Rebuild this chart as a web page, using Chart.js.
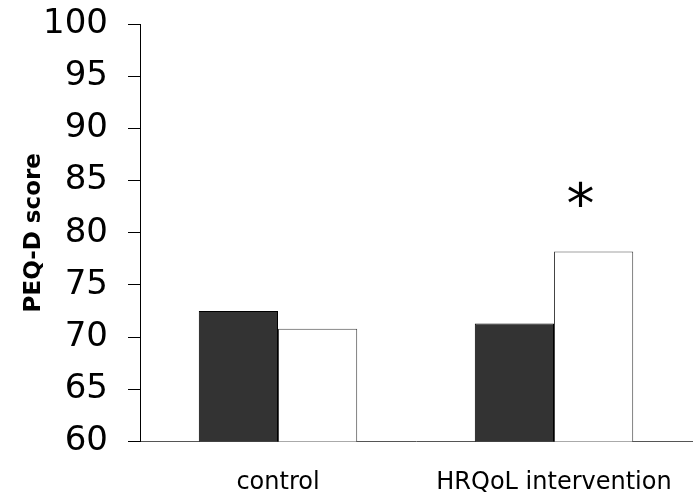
<!DOCTYPE html>
<html>
<head>
<meta charset="utf-8">
<script src="https://cdn.jsdelivr.net/npm/chart.js@4"></script>
<style>
  html, body { margin: 0; padding: 0; background: #fff; }
  #wrap { width: 696px; height: 497px; }
</style>
</head>
<body>
<div id="wrap"><canvas id="peqChart" width="696" height="497"></canvas></div>
<script>
// ===== DATA =====
const groups = ['control', 'HRQoL intervention'];
const baselineScores = [72.5, 71.3];   // dark bars
const followupScores = [70.8, 78.2];   // white bars
const yTicks = [60, 65, 70, 75, 80, 85, 90, 95, 100];
const starValue = 83.6;                // height of the "*" marker
const starGroup = 1;

const FONT = 'DejaVu Sans, Verdana, sans-serif';

// ===== SIGNIFICANCE STAR =====
const starPlugin = {
  id: 'star',
  afterDatasetsDraw(chart) {
    const bar = chart.getDatasetMeta(1).data[starGroup];
    const y = chart.scales.y.getPixelForValue(starValue);
    const ctx = chart.ctx;
    ctx.save();
    ctx.fillStyle = '#000';
    ctx.font = '56px ' + FONT;
    ctx.textAlign = 'center';
    ctx.textBaseline = 'alphabetic';
    ctx.fillText('*', bar.x - 13, y + 28);
    ctx.restore();
  }
};

// ===== BAR CHART =====
const ctx = document.getElementById('peqChart').getContext('2d');
new Chart(ctx, {
  type: 'bar',
  data: {
    labels: groups,
    datasets: [{
      data: baselineScores,
      backgroundColor: '#333333',
      borderColor: '#000',
      borderWidth: 1
    }, {
      data: followupScores,
      backgroundColor: '#ffffff',
      borderColor: '#444',
      borderWidth: 1
    }]
  },
  options: {
    responsive: false,
    animation: false,
    layout: { padding: { top: 24, right: 4, bottom: 0, left: 0 } },
    plugins: { legend: { display: false }, tooltip: { enabled: false } },
    datasets: { bar: { categoryPercentage: 0.574, barPercentage: 1 } },
    scales: {
      x: {
        grid: { display: false, drawTicks: false },
        border: { display: true, color: '#555', width: 1 },
        ticks: { color: '#000', font: { family: FONT, size: 24 }, padding: 27 },
        afterFit: (s) => { s.height = 55.5; s.paddingLeft = 0; s.paddingRight = 0; }
      },
      y: {
        min: 60,
        max: 100,
        afterBuildTicks: (s) => { s.ticks = yTicks.map(v => ({ value: v })); },
        grid: { drawOnChartArea: false, drawTicks: true, tickLength: 12, color: '#000' },
        border: { display: true, color: '#000', width: 1 },
        ticks: { color: '#000', font: { family: FONT, size: 34 }, padding: 20 },
        title: {
          display: true,
          text: 'PEQ-D score',
          color: '#000',
          font: { family: FONT, size: 23, weight: 'bold' },
          padding: { top: 20, bottom: 0 }
        },
        afterFit: (s) => { s.width = 140; s.paddingTop = 0; s.paddingBottom = 0; }
      }
    }
  },
  plugins: [starPlugin]
});
</script>
</body>
</html>
